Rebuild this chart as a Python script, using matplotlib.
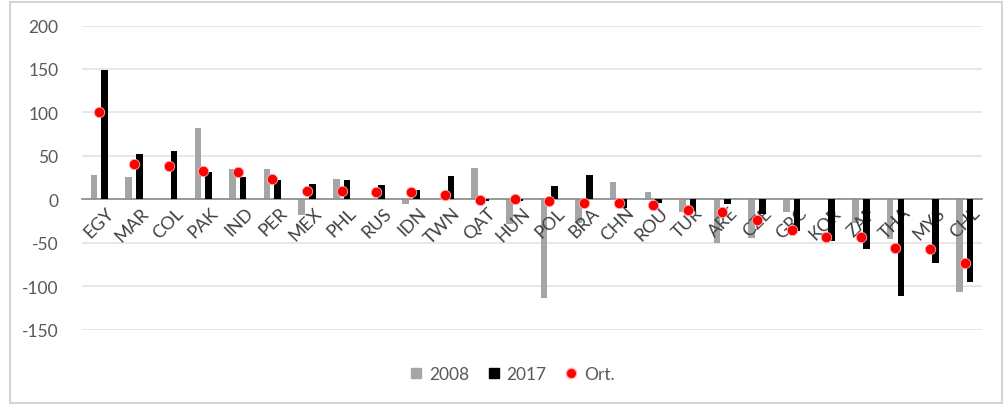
import matplotlib
matplotlib.use("Agg")
import matplotlib.pyplot as plt
import numpy as np
from matplotlib.lines import Line2D
from matplotlib.patches import Rectangle

plt.rcParams['font.family'] = ['Lato', 'DejaVu Sans']

countries = ["EGY", "MAR", "COL", "PAK", "IND", "PER", "MEX", "PHL", "RUS", "IDN",
             "TWN", "QAT", "HUN", "POL", "BRA", "CHN", "ROU", "TUR", "ARE", "CZE",
             "GRC", "KOR", "ZAF", "THA", "MYS", "CHL"]
v2008 = [28, 26, 0, 82, 35, 35, -18, 23, 0, -6,
         0, 36, -28, -114, -27, 20, 8, -15, -50, -45,
         -15, 0, -27, -46, 0, -107]
v2017 = [149, 52, 56, 31, 26, 22, 17, 22, 16, 11,
         27, -2, -2, 15, 28, -10, -4, -13, -5, -17,
         -37, -48, -57, -111, -73, -95]
ort = [100, 40, 38, 32, 31, 23, 9, 9, 8, 8,
       5, -1, 0, -2, -4, -4, -7, -12, -15, -24,
       -36, -43, -44, -56, -57, -74]
yticks = [-150, -100, -50, 0, 50, 100, 150, 200]

fig = plt.figure(figsize=(10.06, 4.06), dpi=100)
fig.patches.append(Rectangle((10/1006, 2/406), 992/1006, 401/406, transform=fig.transFigure,
                             fill=False, edgecolor='#d4d4d4', linewidth=1.5, zorder=0))
ax = fig.add_axes([82/1006, 1 - 330.5/406, 900/1006, 304/406])

x = np.arange(len(countries))
w = 0.19
off = 0.155
ax.bar(x - off, v2008, width=w, color='#a5a5a5', zorder=2)
ax.bar(x + off, v2017, width=w, color='#000000', zorder=4)
ax.plot(x, ort, linestyle='none', marker='o', markersize=7.5, markerfacecolor='#ff0000',
        markeredgecolor='#ffb0b0', markeredgewidth=0.6, zorder=5)

ax.set_xlim(-0.5, len(countries) - 0.5)
ax.set_ylim(-150, 200)
ax.set_yticks(yticks)
ax.set_yticklabels([str(t) for t in yticks])
ax.yaxis.grid(True, color='#e3e3e3', linewidth=1.2, zorder=0)
ax.set_axisbelow(True)
for s in ['top', 'right', 'left']:
    ax.spines[s].set_visible(False)
ax.spines['bottom'].set_position(('data', 0))
ax.spines['bottom'].set_color('#8c8c8c')
ax.spines['bottom'].set_linewidth(1.2)
ax.spines['bottom'].set_zorder(3)
ax.tick_params(axis='y', length=0, pad=17, labelsize=12.5, labelcolor='#595959')
ax.tick_params(axis='x', length=0)
ax.set_xticks(x)
ax.set_xticklabels([])
for i, c in enumerate(countries):
    ax.text(i + 0.2, 0, c, rotation=45, rotation_mode='anchor', ha='right', va='top',
            fontsize=13, color='#404040', zorder=3,
            transform=ax.transData + matplotlib.transforms.ScaledTranslation(0, -5/100, fig.dpi_scale_trans))

handles = [Line2D([], [], linestyle='none', marker='s', markersize=7, color='#a5a5a5'),
           Line2D([], [], linestyle='none', marker='s', markersize=7, color='#000000'),
           Line2D([], [], linestyle='none', marker='o', markersize=7.5, markerfacecolor='#ff0000',
                  markeredgecolor='#ffb0b0')]
leg = fig.legend(handles, ['2008', '2017', 'Ort.'], loc='center', bbox_to_anchor=(512/1006, 1 - 375/406),
                 ncol=3, frameon=False, fontsize=12.5, handlelength=0.8, handletextpad=0.35,
                 columnspacing=1.0)
for t in leg.get_texts():
    t.set_color('#595959')

fig.savefig('out.png', dpi=100)
